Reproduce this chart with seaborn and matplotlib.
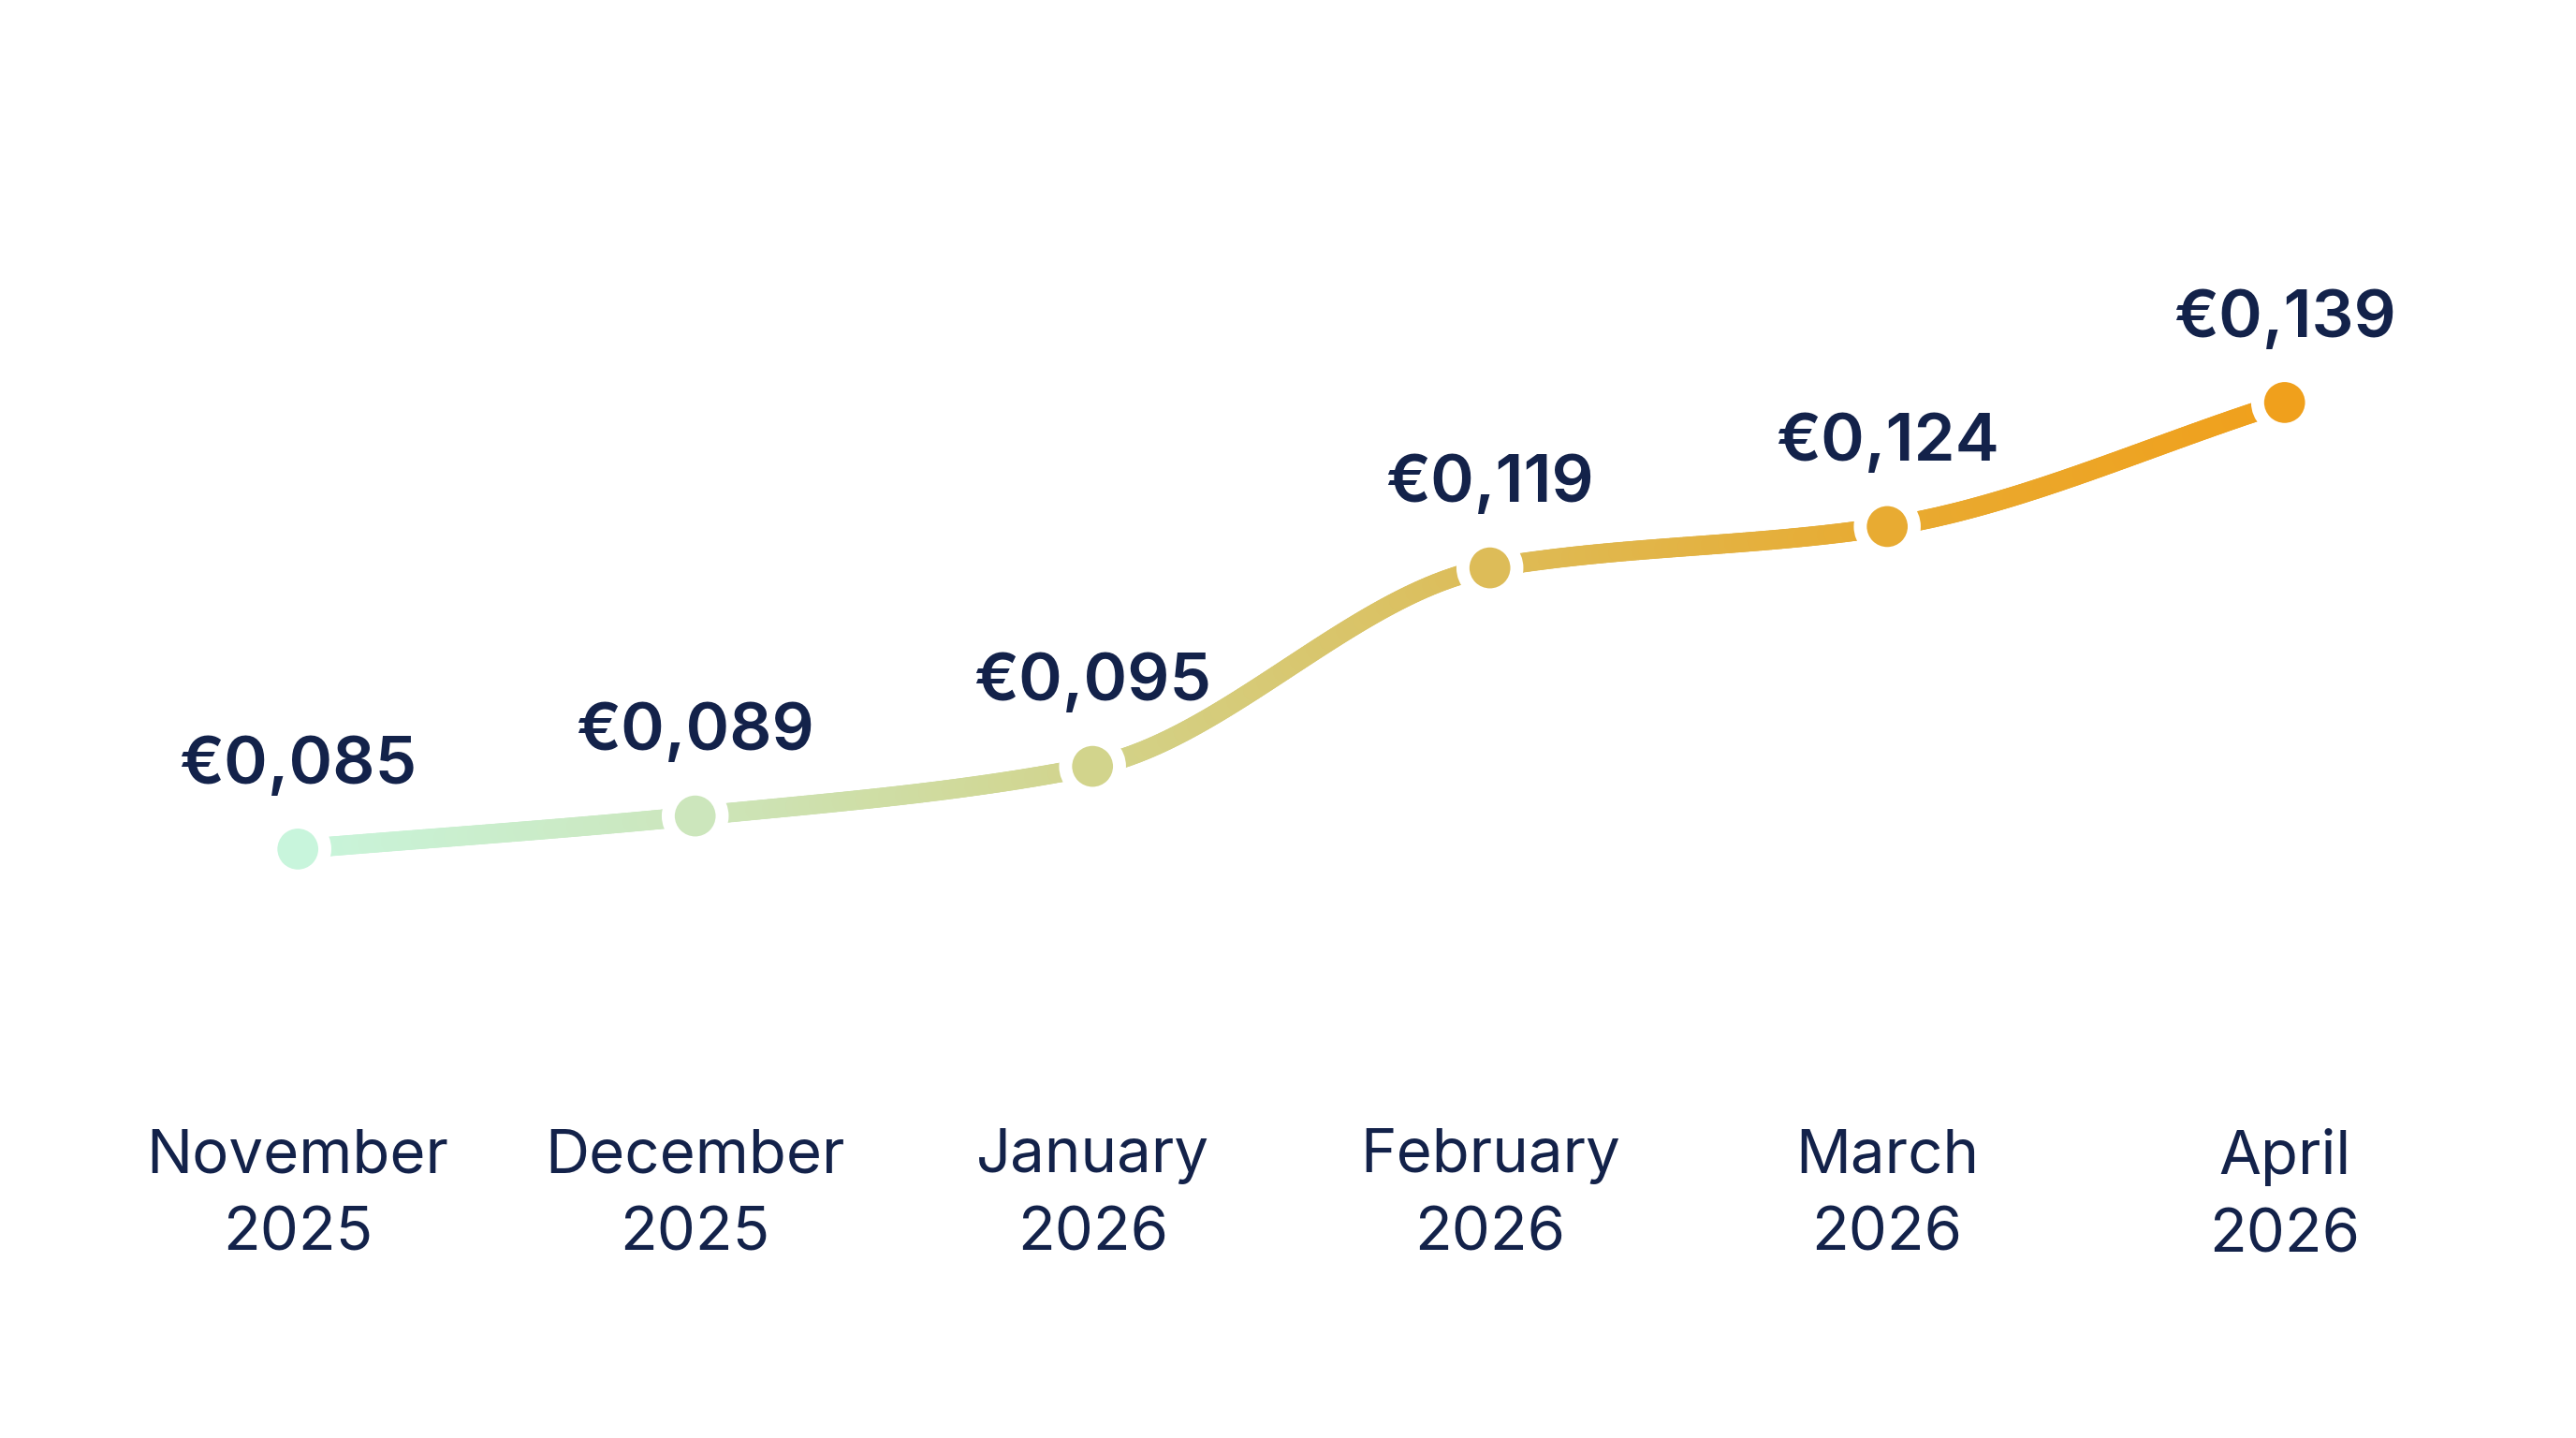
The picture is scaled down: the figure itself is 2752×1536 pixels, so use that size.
import numpy as np
import pandas as pd
import matplotlib
matplotlib.use("Agg")
import matplotlib.pyplot as plt
import seaborn as sns
from matplotlib.collections import LineCollection
from matplotlib.colors import LinearSegmentedColormap, to_rgb

months = ["November\n2025", "December\n2025", "January\n2026", "February\n2026", "March\n2026", "April\n2026"]
prices = [0.085, 0.089, 0.095, 0.119, 0.124, 0.139]
labels = ["€0,085", "€0,089", "€0,095", "€0,119", "€0,124", "€0,139"]
point_colors = ["#c8f5dc", "#cce6bc", "#d2d48c", "#ddbc58", "#e8ab32", "#f0a01c"]

NAVY = "#13224a"

sns.set_theme(style="white")
plt.rcParams["font.family"] = ["Inter", "DejaVu Sans"]

df = pd.DataFrame({"x": np.arange(len(prices)), "price": prices, "month": months})

fig = plt.figure(figsize=(13.76, 7.68), dpi=200)
fig.patch.set_facecolor("white")
ax = fig.add_axes([0.0385, 0.2839, 0.9255, 0.5534])
ax.set_facecolor("white")


def pchip(x, y, xs):
    x = np.asarray(x, float); y = np.asarray(y, float)
    h = np.diff(x); d = np.diff(y) / h
    m = np.zeros_like(y)
    for k in range(1, len(y) - 1):
        if d[k - 1] * d[k] > 0:
            w1 = 2 * h[k] + h[k - 1]; w2 = h[k] + 2 * h[k - 1]
            m[k] = (w1 + w2) / (w1 / d[k - 1] + w2 / d[k])
    m[0] = d[0]; m[-1] = d[-1]
    out = np.empty_like(xs)
    for i, xv in enumerate(xs):
        k = min(np.searchsorted(x, xv, side="right") - 1, len(x) - 2)
        k = max(k, 0)
        t = (xv - x[k]) / h[k]
        h00 = 2 * t**3 - 3 * t**2 + 1; h10 = t**3 - 2 * t**2 + t
        h01 = -2 * t**3 + 3 * t**2; h11 = t**3 - t**2
        out[i] = h00 * y[k] + h10 * h[k] * m[k] + h01 * y[k + 1] + h11 * h[k] * m[k + 1]
    return out


cmap = LinearSegmentedColormap.from_list(
    "grad", [(i / (len(point_colors) - 1), to_rgb(c)) for i, c in enumerate(point_colors)])

xs = np.linspace(0, len(prices) - 1, 600)
ys = pchip(df["x"], df["price"], xs)
pts = np.column_stack([xs, ys]).reshape(-1, 1, 2)
segs = np.concatenate([pts[:-1], pts[1:]], axis=1)
lc = LineCollection(segs, colors=cmap((xs[:-1] + xs[1:]) / 2 / (len(prices) - 1)),
                    linewidths=7.5, capstyle="round", zorder=2)
ax.add_collection(lc)

sns.scatterplot(data=df, x="x", y="price", hue="month", palette=point_colors,
                s=430, edgecolor="white", linewidth=5, legend=False, zorder=3, ax=ax)

for xi, yi, lab in zip(df["x"], df["price"], labels):
    ax.annotate(lab, (xi, yi), xytext=(0, 32), textcoords="offset points",
                ha="center", va="center", fontsize=25.5, fontweight="semibold",
                color=NAVY, zorder=4)

ax.set_xlim(-0.5, len(prices) - 0.5)
ax.set_ylim(0.06315, 0.15938)
ax.set_xticks(df["x"])
ax.set_xticklabels(months, fontsize=23.5, color=NAVY, linespacing=1.5)
ax.tick_params(axis="x", length=0, pad=38)
ax.set_yticks([])
ax.set_xlabel("")
ax.set_ylabel("")
for sp in ax.spines.values():
    sp.set_visible(False)

fig.savefig("out.png", dpi=200, facecolor="white")
